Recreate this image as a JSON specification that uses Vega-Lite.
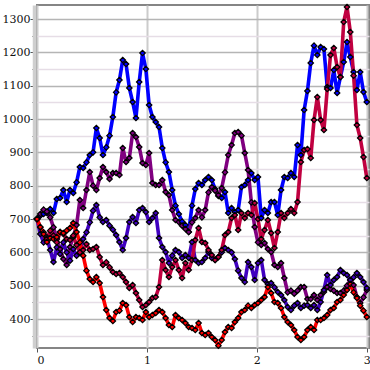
{
  "$schema": "https://vega.github.io/schema/vega-lite/v6.json",
  "width": 332,
  "height": 343,
  "autosize": {"type": "none"},
  "padding": {"left": 37, "top": 5, "right": 1, "bottom": 22},
  "background": "white",
  "config": {
    "view": {"stroke": "#858585", "strokeWidth": 2},
    "axis": {"labelFont": "DejaVu Serif", "labelFontSize": 11, "labelColor": "#111", "title": null, "tickColor": "#555", "tickWidth": 1}
  },
  "data": {"values": [
    {"x":0,"A":700,"B":700,"C":700,"D":700,"E":700},
    {"x":0.03,"A":710,"B":715,"C":655,"D":675,"E":676},
    {"x":0.06,"A":715,"B":728,"C":630,"D":660,"E":655},
    {"x":0.09,"A":718,"B":722,"C":645,"D":640,"E":631},
    {"x":0.12,"A":730,"B":705,"C":607,"D":665,"E":643},
    {"x":0.15,"A":718,"B":675,"C":571,"D":650,"E":640},
    {"x":0.18,"A":760,"B":640,"C":615,"D":630,"E":646},
    {"x":0.21,"A":763,"B":610,"C":595,"D":661,"E":661},
    {"x":0.24,"A":787,"B":580,"C":630,"D":655,"E":658},
    {"x":0.27,"A":751,"B":562,"C":600,"D":640,"E":665},
    {"x":0.3,"A":787,"B":616,"C":575,"D":637,"E":673},
    {"x":0.33,"A":778,"B":646,"C":610,"D":650,"E":688},
    {"x":0.36,"A":810,"B":682,"C":590,"D":622,"E":661},
    {"x":0.39,"A":856,"B":757,"C":598,"D":600,"E":630},
    {"x":0.42,"A":853,"B":733,"C":640,"D":607,"E":590},
    {"x":0.45,"A":870,"B":787,"C":660,"D":625,"E":545},
    {"x":0.48,"A":892,"B":841,"C":690,"D":607,"E":520},
    {"x":0.51,"A":900,"B":800,"C":725,"D":610,"E":511},
    {"x":0.54,"A":973,"B":787,"C":742,"D":616,"E":526},
    {"x":0.57,"A":943,"B":823,"C":705,"D":586,"E":508},
    {"x":0.6,"A":892,"B":856,"C":691,"D":562,"E":466},
    {"x":0.63,"A":915,"B":841,"C":697,"D":570,"E":427},
    {"x":0.66,"A":950,"B":820,"C":680,"D":555,"E":403},
    {"x":0.69,"A":1006,"B":838,"C":668,"D":541,"E":394},
    {"x":0.72,"A":1080,"B":838,"C":652,"D":535,"E":421},
    {"x":0.75,"A":1117,"B":832,"C":631,"D":538,"E":425},
    {"x":0.78,"A":1177,"B":913,"C":607,"D":526,"E":448},
    {"x":0.81,"A":1165,"B":871,"C":643,"D":511,"E":442},
    {"x":0.84,"A":1093,"B":883,"C":691,"D":493,"E":406},
    {"x":0.87,"A":1051,"B":958,"C":706,"D":502,"E":391},
    {"x":0.9,"A":1003,"B":946,"C":688,"D":478,"E":406},
    {"x":0.93,"A":1111,"B":916,"C":727,"D":457,"E":403},
    {"x":0.96,"A":1198,"B":868,"C":733,"D":436,"E":397},
    {"x":0.99,"A":1150,"B":862,"C":721,"D":442,"E":421},
    {"x":1.02,"A":1042,"B":898,"C":691,"D":451,"E":406},
    {"x":1.05,"A":1006,"B":808,"C":703,"D":463,"E":412},
    {"x":1.08,"A":991,"B":802,"C":718,"D":466,"E":418},
    {"x":1.11,"A":976,"B":802,"C":643,"D":496,"E":427},
    {"x":1.14,"A":913,"B":817,"C":616,"D":577,"E":421},
    {"x":1.17,"A":870,"B":781,"C":601,"D":547,"E":403},
    {"x":1.2,"A":841,"B":772,"C":568,"D":526,"E":382},
    {"x":1.23,"A":787,"B":727,"C":590,"D":556,"E":376},
    {"x":1.26,"A":740,"B":697,"C":607,"D":577,"E":412},
    {"x":1.29,"A":715,"B":691,"C":601,"D":547,"E":403},
    {"x":1.32,"A":692,"B":680,"C":583,"D":523,"E":397},
    {"x":1.35,"A":682,"B":670,"C":592,"D":568,"E":388},
    {"x":1.38,"A":661,"B":661,"C":583,"D":547,"E":376},
    {"x":1.41,"A":740,"B":690,"C":631,"D":577,"E":373},
    {"x":1.44,"A":790,"B":703,"C":577,"D":637,"E":367},
    {"x":1.47,"A":808,"B":727,"C":568,"D":673,"E":388},
    {"x":1.5,"A":802,"B":705,"C":571,"D":631,"E":358},
    {"x":1.53,"A":817,"B":727,"C":583,"D":628,"E":352},
    {"x":1.56,"A":826,"B":780,"C":601,"D":607,"E":358},
    {"x":1.59,"A":817,"B":796,"C":583,"D":592,"E":346},
    {"x":1.62,"A":790,"B":785,"C":577,"D":577,"E":337},
    {"x":1.65,"A":769,"B":772,"C":586,"D":586,"E":320},
    {"x":1.68,"A":763,"B":793,"C":600,"D":607,"E":337},
    {"x":1.71,"A":781,"B":840,"C":613,"D":652,"E":361},
    {"x":1.74,"A":718,"B":892,"C":607,"D":661,"E":376},
    {"x":1.77,"A":733,"B":922,"C":600,"D":703,"E":373},
    {"x":1.8,"A":721,"B":958,"C":580,"D":712,"E":391},
    {"x":1.83,"A":727,"B":961,"C":545,"D":667,"E":403},
    {"x":1.86,"A":796,"B":950,"C":523,"D":718,"E":421},
    {"x":1.89,"A":802,"B":898,"C":511,"D":703,"E":427},
    {"x":1.92,"A":817,"B":847,"C":571,"D":718,"E":440},
    {"x":1.95,"A":838,"B":750,"C":556,"D":712,"E":433},
    {"x":1.98,"A":817,"B":676,"C":517,"D":748,"E":442},
    {"x":2.01,"A":826,"B":630,"C":568,"D":700,"E":448},
    {"x":2.04,"A":703,"B":622,"C":577,"D":640,"E":457},
    {"x":2.07,"A":727,"B":628,"C":517,"D":667,"E":466},
    {"x":2.1,"A":718,"B":610,"C":505,"D":697,"E":496},
    {"x":2.13,"A":751,"B":601,"C":508,"D":658,"E":478},
    {"x":2.16,"A":751,"B":562,"C":495,"D":613,"E":451},
    {"x":2.19,"A":712,"B":556,"C":481,"D":661,"E":448},
    {"x":2.22,"A":787,"B":568,"C":472,"D":718,"E":433},
    {"x":2.25,"A":826,"B":523,"C":457,"D":703,"E":406},
    {"x":2.28,"A":823,"B":480,"C":436,"D":718,"E":391},
    {"x":2.31,"A":838,"B":485,"C":427,"D":730,"E":382},
    {"x":2.34,"A":826,"B":476,"C":440,"D":718,"E":367},
    {"x":2.37,"A":922,"B":485,"C":448,"D":751,"E":346},
    {"x":2.4,"A":892,"B":496,"C":433,"D":871,"E":337},
    {"x":2.43,"A":1027,"B":496,"C":440,"D":907,"E":346},
    {"x":2.46,"A":1084,"B":460,"C":442,"D":910,"E":367},
    {"x":2.49,"A":1168,"B":460,"C":433,"D":883,"E":376},
    {"x":2.52,"A":1220,"B":472,"C":442,"D":997,"E":367},
    {"x":2.55,"A":1192,"B":457,"C":427,"D":1066,"E":397},
    {"x":2.58,"A":1216,"B":472,"C":451,"D":997,"E":397},
    {"x":2.61,"A":1210,"B":481,"C":487,"D":967,"E":403},
    {"x":2.64,"A":1096,"B":496,"C":532,"D":1090,"E":412},
    {"x":2.67,"A":1093,"B":490,"C":502,"D":1192,"E":427},
    {"x":2.7,"A":1147,"B":485,"C":517,"D":1213,"E":433},
    {"x":2.73,"A":1078,"B":478,"C":526,"D":1156,"E":451},
    {"x":2.76,"A":1126,"B":478,"C":547,"D":1126,"E":457},
    {"x":2.79,"A":1171,"B":485,"C":538,"D":1291,"E":472},
    {"x":2.82,"A":1231,"B":500,"C":532,"D":1336,"E":487},
    {"x":2.85,"A":1186,"B":517,"C":517,"D":1261,"E":505},
    {"x":2.88,"A":1141,"B":502,"C":525,"D":1130,"E":480},
    {"x":2.91,"A":1087,"B":466,"C":538,"D":982,"E":463},
    {"x":2.94,"A":1141,"B":448,"C":526,"D":943,"E":440},
    {"x":2.97,"A":1081,"B":465,"C":511,"D":886,"E":425},
    {"x":3,"A":1051,"B":487,"C":493,"D":823,"E":406}
  ]},
  "transform": [{"fold": ["A", "B", "C", "D", "E"], "as": ["series", "value"]}],
  "encoding": {
    "x": {
      "field": "x", "type": "quantitative",
      "scale": {"domain": [0, 3.02], "nice": false, "zero": false},
      "axis": {
        "values": [0, 0.5, 1, 1.5, 2, 2.5, 3],
        "format": "d",
        "labelExpr": "datum.value % 1 === 0 ? datum.label : ''",
        "domain": false,
        "grid": true,
        "gridColor": {"condition": {"test": "datum.value % 1 === 0", "value": "#cccccc"}, "value": "#f2e0f2"},
        "gridWidth": 2,
        "tickSize": {"condition": {"test": "datum.value % 1 === 0", "value": 4}, "value": 3},
        "labelPadding": 2
      }
    },
    "y": {
      "field": "value", "type": "quantitative",
      "scale": {"domain": [313, 1342], "nice": false, "zero": false},
      "axis": {
        "values": [350, 400, 450, 500, 550, 600, 650, 700, 750, 800, 850, 900, 950, 1000, 1050, 1100, 1150, 1200, 1250, 1300],
        "labelExpr": "datum.value % 100 === 0 ? datum.label : ''",
        "format": "d",
        "domain": true,
        "domainColor": "#cfcfcf",
        "domainWidth": 3.5,
        "offset": 3,
        "grid": true,
        "gridColor": {"condition": {"test": "datum.value % 100 === 0", "value": "#b5b5b5"}, "value": "#e6dde6"},
        "gridWidth": 1.5,
        "tickSize": {"condition": {"test": "datum.value % 100 === 0", "value": 4}, "value": 2},
        "labelPadding": 0
      }
    },
    "color": {
      "field": "series", "type": "nominal", "legend": null,
      "scale": {"domain": ["A", "B", "C", "D", "E"], "range": ["#0000ff", "#800080", "#4000c0", "#c00040", "#ff0000"]}
    }
  },
  "layer": [
    {"mark": {"type": "line", "strokeWidth": 3.6, "strokeJoin": "round", "strokeCap": "round"}},
    {"mark": {"type": "point", "shape": "diamond", "filled": true, "size": 30, "stroke": "#000000", "strokeWidth": 1.2, "opacity": 1}}
  ]
}
